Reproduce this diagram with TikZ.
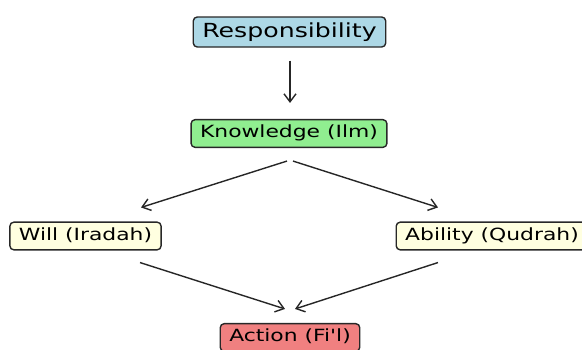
\documentclass[tikz,border=0pt]{standalone}
\usepackage{fontspec}
\usepackage{graphicx}
\newfontfamily\dvsans{DejaVu Sans}
\usetikzlibrary{arrows.meta}
\definecolor{boxblue}{RGB}{173,216,230}
\definecolor{boxgreen}{RGB}{144,238,144}
\definecolor{boxyellow}{RGB}{255,255,224}
\definecolor{boxred}{RGB}{240,128,128}
\definecolor{edgegray}{RGB}{40,40,40}
\newcommand{\wide}[1]{\scalebox{1.3}[1]{#1}}
\tikzset{
  box/.style={draw=edgegray, line width=1.4pt, rounded corners=4pt,
    inner xsep=9pt, inner ysep=5.5pt, text=black,
    font=\dvsans\fontsize{16.8pt}{20pt}\selectfont, text height=12.7pt, text depth=4pt},
  bigbox/.style={box, font=\dvsans\fontsize{19.4pt}{23pt}\selectfont, text height=14.7pt, text depth=4.5pt, inner ysep=5.4pt},
  arr/.style={-{Straight Barb[length=8pt,width=12pt]}, line width=1.4pt, draw=black!85}
}
\begin{document}
\begin{tikzpicture}[x=1pt,y=-1pt]
\useasboundingbox (0,0) rectangle (582,349);
\node[bigbox, fill=boxblue] (R) at (289.5,32) {\wide{Responsibility}};
\node[box, fill=boxgreen] (K) at (289,133.5) {\wide{Knowledge (Ilm)}};
\node[box, fill=boxyellow] (W) at (85.5,236) {\wide{Will (Iradah)}};
\node[box, fill=boxyellow] (A) at (492,236) {\wide{Ability (Qudrah)}};
\node[box, fill=boxred] (F) at (290,337.5) {\wide{Action (Fi'l)}};
\draw[arr] ([shift={(0.5,13)}]R.south) -- ([shift={(1,-16)}]K.north);
\draw[arr] ([shift={(-2,13)}]K.south) -- ([shift={(55.5,-14)}]W.north);
\draw[arr] ([shift={(4,13)}]K.south) -- ([shift={(-54,-14)}]A.north);
\draw[arr] ([shift={(54.5,12)}]W.south) -- ([shift={(-5,-14)}]F.north);
\draw[arr] ([shift={(-54,12)}]A.south) -- ([shift={(5,-14)}]F.north);
\end{tikzpicture}
\end{document}
